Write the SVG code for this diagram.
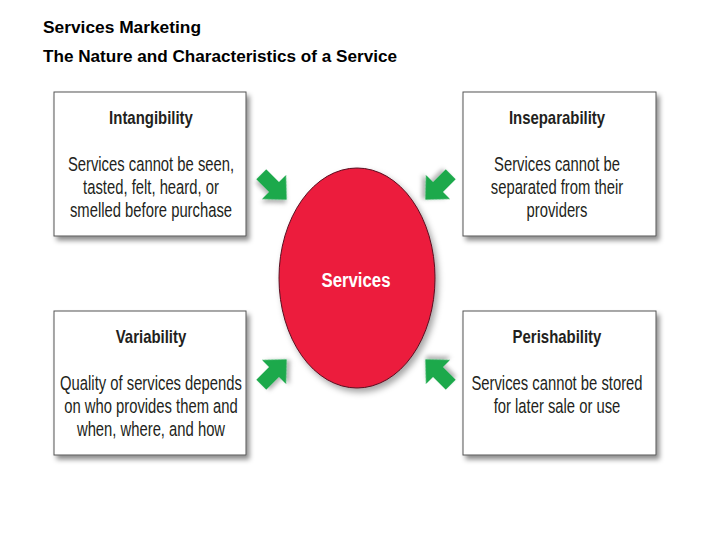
<svg xmlns="http://www.w3.org/2000/svg" width="720" height="540" viewBox="0 0 720 540">
<style>
.title{font-family:"Liberation Sans",Arial,sans-serif;font-weight:bold;font-size:16px;fill:#000}
.box{fill:#fff;stroke:#555;stroke-width:1;filter:url(#sh)}
.head{font-family:"Liberation Sans",Arial,sans-serif;font-weight:bold;font-size:18px;fill:#231f20;text-anchor:middle}
.body{font-family:"Liberation Sans",Arial,sans-serif;font-size:19.5px;fill:#231f20;text-anchor:middle}
.arrow{fill:#1ba94c;filter:url(#ash)}
</style>
<defs>
<filter id="sh" x="-10%" y="-10%" width="125%" height="125%">
<feDropShadow dx="3" dy="4" stdDeviation="2.5" flood-color="#000" flood-opacity="0.45"/>
</filter>
<filter id="ash" x="-30%" y="-30%" width="170%" height="170%">
<feDropShadow dx="2" dy="3" stdDeviation="2" flood-color="#000" flood-opacity="0.3"/>
</filter>
<filter id="esh" x="-10%" y="-10%" width="125%" height="125%">
<feDropShadow dx="3" dy="4" stdDeviation="3" flood-color="#000" flood-opacity="0.35"/>
</filter>
<polygon id="arr" points="-18,-7 0,-7 0,-17 18,0 0,17 0,7 -18,7"/>
</defs>
<rect width="720" height="540" fill="#fff"/>
<text class="title" x="43" y="33" textLength="158" lengthAdjust="spacingAndGlyphs">Services Marketing</text>
<text class="title" x="43" y="62" textLength="354" lengthAdjust="spacingAndGlyphs">The Nature and Characteristics of a Service</text>

<g id="intangibility">
<rect class="box" x="54" y="92" width="192" height="144"/>
<text class="head" transform="translate(151 124) scale(0.83 1)">Intangibility</text>
<g transform="translate(151 0) scale(0.76 1)">
<text class="body" x="0" y="171">Services cannot be seen,</text>
<text class="body" x="0" y="194">tasted, felt, heard, or</text>
<text class="body" x="0" y="217">smelled before purchase</text>
</g>
</g>
<g id="inseparability">
<rect class="box" x="463" y="92" width="193" height="144"/>
<text class="head" transform="translate(557 124) scale(0.83 1)">Inseparability</text>
<g transform="translate(557 0) scale(0.76 1)">
<text class="body" x="0" y="171">Services cannot be</text>
<text class="body" x="0" y="194">separated from their</text>
<text class="body" x="0" y="217">providers</text>
</g>
</g>
<g id="variability">
<rect class="box" x="54" y="311" width="192" height="144"/>
<text class="head" transform="translate(151 343) scale(0.83 1)">Variability</text>
<g transform="translate(151 0) scale(0.76 1)">
<text class="body" x="0" y="390">Quality of services depends</text>
<text class="body" x="0" y="413">on who provides them and</text>
<text class="body" x="0" y="436">when, where, and how</text>
</g>
</g>
<g id="perishability">
<rect class="box" x="463" y="311" width="193" height="144"/>
<text class="head" transform="translate(557 343) scale(0.83 1)">Perishability</text>
<g transform="translate(557 0) scale(0.76 1)">
<text class="body" x="0" y="390">Services cannot be stored</text>
<text class="body" x="0" y="413">for later sale or use</text>
</g>
</g>
<g id="services">
<ellipse cx="357" cy="278" rx="78" ry="110" fill="#ec1b3c" stroke="#5a1020" stroke-width="1" filter="url(#esh)"/>
<text transform="translate(356 287) scale(0.8 1)" font-family="'Liberation Sans',Arial,sans-serif" font-weight="bold" font-size="21" fill="#fff" text-anchor="middle">Services</text>
</g>
<g id="connectors">
<use href="#arr" class="arrow" transform="translate(274,187) rotate(45)"/>
<use href="#arr" class="arrow" transform="translate(438,187) rotate(135)"/>
<use href="#arr" class="arrow" transform="translate(274,372) rotate(-45)"/>
<use href="#arr" class="arrow" transform="translate(438,372) rotate(-135)"/>
</g>
</svg>
